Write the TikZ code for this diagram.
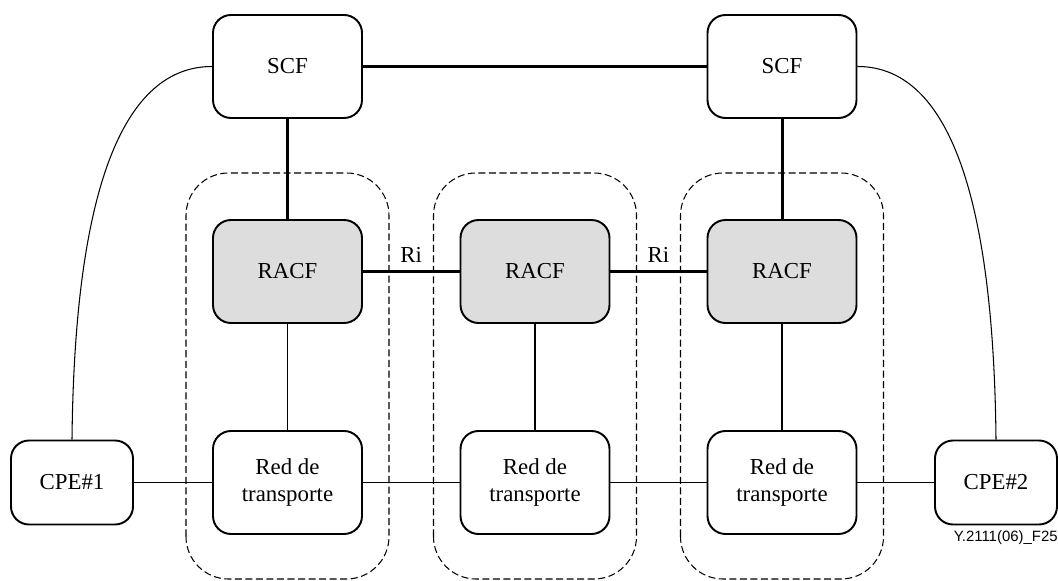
\documentclass[tikz,border=0pt]{standalone}
\usepackage{fontspec}
\setmainfont{Liberation Serif}
\newfontfamily\figidfont{Liberation Sans}
\usetikzlibrary{positioning}
\definecolor{racfgray}{RGB}{221,221,221}

\begin{document}
\begin{tikzpicture}[
  fn/.style={draw, line width=1.1pt, rounded corners=0.36cm, minimum width=2.98cm, minimum height=2.06cm, align=center, font=\fontsize{13}{15}\selectfont},
  racf/.style={fn, fill=racfgray},
  cpe/.style={fn, minimum width=2.44cm, minimum height=1.68cm},
  zone/.style={draw, dash pattern=on 4pt off 2pt, line width=0.6pt, rounded corners=0.85cm},
  biglink/.style={line width=1.7pt},
  thinlink/.style={line width=0.6pt}
]
\useasboundingbox (0,0) rectangle (21.16,11.6);

% Dashed domains
\foreach \x in {5.75,10.70,15.64}
  \draw[zone] (\x-2.03,0.02) rectangle (\x+2.03,8.14);

% Service control
\node[fn] (scf1) at (5.75,10.27) {SCF};
\node[fn] (scf2) at (15.64,10.27) {SCF};

% Resource control
\node[racf] (racf1) at (5.75,6.17) {RACF};
\node[racf] (racf2) at (10.70,6.17) {RACF};
\node[racf] (racf3) at (15.64,6.17) {RACF};

% Transport
\node[fn] (red1) at (5.75,1.95) {Red de\\transporte};
\node[fn] (red2) at (10.70,1.95) {Red de\\transporte};
\node[fn] (red3) at (15.64,1.95) {Red de\\transporte};
\node[cpe] (cpe1) at (1.44,1.95) {CPE\#1};
\node[cpe] (cpe2) at (19.92,1.95) {CPE\#2};

\node[font=\figidfont\fontsize{8.5}{10}\selectfont, anchor=east, inner sep=0pt] (figid) at (21.16,0.84) {Y.2111(06)\_F25};

% Links
\draw[biglink] (scf1) -- (scf2);
\draw[biglink] (scf1) -- (racf1);
\draw[biglink] (scf2) -- (racf3);
\draw[biglink] (racf1) -- node[above=1pt, font=\fontsize{13}{15}\selectfont] (ri1) {Ri} (racf2);
\draw[biglink] (racf2) -- node[above=1pt, font=\fontsize{13}{15}\selectfont] (ri2) {Ri} (racf3);
\draw[thinlink] (racf1) -- (red1);
\draw[thinlink] (racf2) -- (red2);
\draw[thinlink] (racf3) -- (red3);
\draw[thinlink] (cpe1) -- (red1);
\draw[thinlink] (red1) -- (red2);
\draw[thinlink] (red2) -- (red3);
\draw[thinlink] (red3) -- (cpe2);
\draw[thinlink] (scf1.west) .. controls +(-1.46,0) and +(0.06,5.8) .. (cpe1.north);
\draw[thinlink] (scf2.east) .. controls +(1.46,0) and +(-0.06,5.8) .. (cpe2.north);
\end{tikzpicture}
\end{document}
